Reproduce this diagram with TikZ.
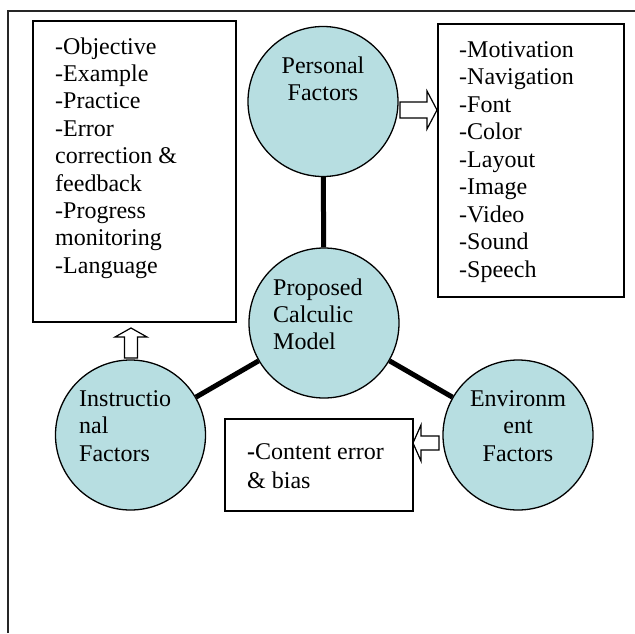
\documentclass[tikz,border=0pt]{standalone}
\usepackage{fontspec}
\setmainfont{Liberation Serif}
\usetikzlibrary{fit}
\definecolor{circfill}{RGB}{183,222,225}
\tikzset{
  every picture/.style={x=1pt,y=-1pt},
  circ/.style={circle,draw=black,line width=1.3pt,fill=circfill,minimum size=150pt,inner sep=0pt},
  txtbox/.style={draw=black,line width=1.4pt,inner sep=0pt,fill=white},
  lbl/.style={inner sep=0pt,font=\rmfamily\fontsize{24}{27}\selectfont},
  link/.style={line width=5pt},
  blockarrow/.style={draw=black,fill=white,line width=1.2pt,line join=miter},
  frameline/.style={line width=1.6pt,draw=black!85}
}
\begin{document}
\begin{tikzpicture}
\useasboundingbox (0,0) rectangle (635,633);
% frame
\coordinate (fbl) at (8,633);
\coordinate (ftl) at (8,11);
\coordinate (ftr) at (635,11);
\draw[frameline] (fbl) -- (ftl) -- (ftr);

% boxes
\node[txtbox,fit={(33,21) (236,322)}] (lbox) {};
\node[txtbox,fit={(438,24) (624,297)}] (rbox) {};
\node[txtbox,fit={(225,419) (413,511)}] (bbox) {};

% circles
\node[circ] (pers) at (323,101.5) {};
\node[circ] (prop) at (324,323) {};
\node[circ] (instr) at (130.5,435) {};
\node[circ] (env) at (518,435) {};

% connectors
\draw[link] (pers) -- (prop);
\draw[link] (prop) -- (instr);
\draw[link] (prop) -- (env);

% block arrows
\draw[blockarrow] (400,102) -- (427,102) -- (427,91) -- (437,110) -- (427,129) -- (427,118) -- (400,118) -- cycle;
\draw[blockarrow] (124.5,358) -- (124.5,337) -- (115,337) -- (131,328) -- (147,337) -- (137.5,337) -- (137.5,358) -- cycle;
\draw[blockarrow] (439,436) -- (421,436) -- (421,425) -- (413,443) -- (421,461) -- (421,450) -- (439,450) -- cycle;

% left box text
\foreach \t [count=\i] in {-Objective,-Example,-Practice,-Error,correction \&,feedback,-Progress,monitoring,-Language}
  \node[lbl,anchor=base west] (lt\i) at (55,{54+27.4*(\i-1)}) {\t};

% right box text
\foreach \t [count=\i] in {-Motivation,-Navigation,-Font,-Color,-Layout,-Image,-Video,-Sound,-Speech}
  \node[lbl,anchor=base west] (rt\i) at (459,{57+27.5*(\i-1)}) {\t};

% circle texts
\node[lbl,anchor=base] (pt1) at (323,73) {Personal};
\node[lbl,anchor=base] (pt2) at (323,100) {Factors};

\node[lbl,anchor=base west] (ct1) at (273,295) {Proposed};
\node[lbl,anchor=base west] (ct2) at (273,322) {Calculic};
\node[lbl,anchor=base west] (ct3) at (273,349) {Model};

\node[lbl,anchor=base west] (it1) at (79,406) {Instructio};
\node[lbl,anchor=base west] (it2) at (79,433) {nal};
\node[lbl,anchor=base west] (it3) at (79,461) {Factors};

\node[lbl,anchor=base] (et1) at (518,406) {Environm};
\node[lbl,anchor=base] (et2) at (518,433) {ent};
\node[lbl,anchor=base] (et3) at (518,461) {Factors};

% bottom box text
\node[lbl,anchor=base west] (bt1) at (247,459) {\textbf{-}Content error};
\node[lbl,anchor=base west] (bt2) at (247,488) {\& bias};
\end{tikzpicture}
\end{document}
